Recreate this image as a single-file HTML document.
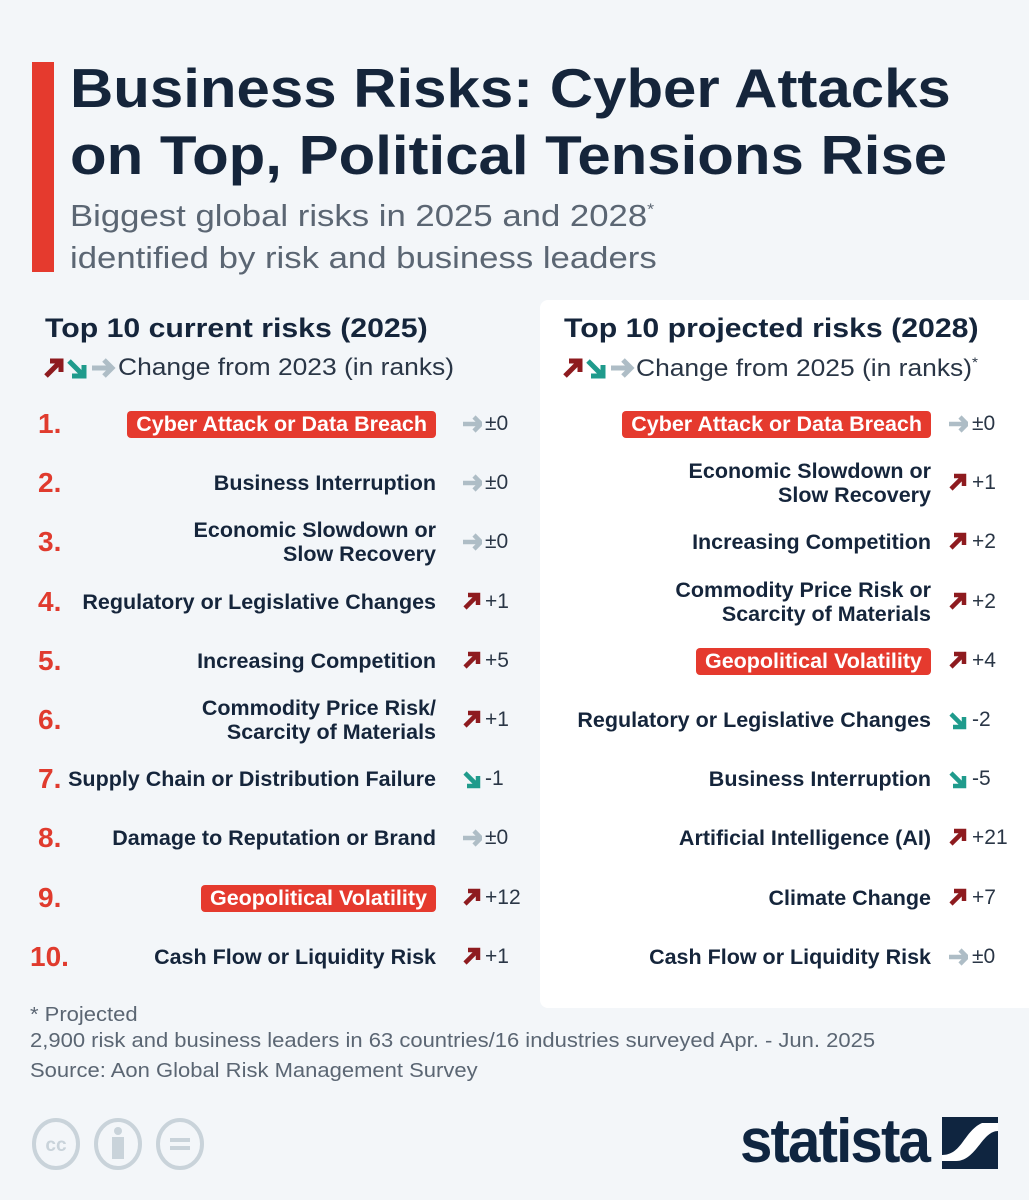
<!DOCTYPE html>
<html><head><meta charset="utf-8"><style>
*{margin:0;padding:0;box-sizing:border-box}
body{width:1029px;height:1200px;background:#f3f6f9;font-family:"Liberation Sans","DejaVu Sans",sans-serif;position:relative;overflow:hidden;color:#17263b}
.a{position:absolute;white-space:nowrap}
.sx{transform-origin:left top}
.t{font-weight:bold;font-size:55px;color:#15253b;left:70px;line-height:66px;transform:scaleX(1.09)}
.sub{font-size:31px;color:#5b6673;left:70px;transform:scaleX(1.12)}
.h{font-weight:bold;font-size:27px;color:#15253b;transform:scaleX(1.12)}
.leg{font-size:24px;color:#2a3646;transform:scaleX(1.1)}
.rk{font-weight:bold;font-size:28px;color:#e03b2e;transform:translateY(-50%)}
.lb{font-weight:bold;font-size:21.5px;color:#15253b;text-align:right;line-height:24px;transform:translateY(-50%)}
.pill{background:#e53a2e;color:#fff;border-radius:4px;padding:1px 9px 2px}
.v{font-size:21px;color:#2a3646;transform:translateY(-50%)}
.ar{position:absolute;transform:translateY(-50%)}
</style></head><body>
<div class="a" style="left:32px;top:62px;width:22px;height:210px;background:#e53a2e"></div>
<div class="a t sx" style="top:55px">Business Risks: Cyber Attacks</div>
<div class="a t sx" style="top:122px">on Top, Political Tensions Rise</div>
<div class="a sub sx" style="top:198px">Biggest global risks in 2025 and 2028<sup style="font-size:16px">*</sup></div>
<div class="a sub sx" style="top:240px">identified by risk and business leaders</div>

<div class="a" style="left:540px;top:300px;width:520px;height:708px;background:#fff;border-radius:8px"></div>

<div class="a h sx" style="left:45px;top:313px">Top 10 current risks (2025)</div>
<div class="a h sx" style="left:564px;top:313px">Top 10 projected risks (2028)</div>

<svg class="a" style="left:42px;top:356px" width="74" height="24" viewBox="0 0 74 24">
<g stroke-width="5" fill="none"><path d="M4 20 L18 6 M8 5 H19 V16" stroke="#8e1b1f"/><path d="M27 5 L41 19 M30 20 H42 V9" stroke="#1f9b8c"/><path d="M50 12 H70 M62 4 L70 12 L62 20" stroke="#aebdc6"/></g></svg>
<div class="a leg sx" style="left:118px;top:354px">Change from 2023 (in ranks)</div>
<svg class="a" style="left:561px;top:356px" width="74" height="24" viewBox="0 0 74 24">
<g stroke-width="5" fill="none"><path d="M4 20 L18 6 M8 5 H19 V16" stroke="#8e1b1f"/><path d="M27 5 L41 19 M30 20 H42 V9" stroke="#1f9b8c"/><path d="M50 12 H70 M62 4 L70 12 L62 20" stroke="#aebdc6"/></g></svg>
<div class="a leg sx" style="left:636px;top:354px">Change from 2025 (in ranks)<sup style="font-size:14px">*</sup></div>

<div id="rows"></div>

<div class="a sx" style="left:30px;top:1002px;font-size:20px;color:#5b6673;line-height:26px;transform:scaleX(1.1)">* Projected<br>2,900 risk and business leaders in 63 countries/16 industries surveyed Apr. - Jun. 2025<br><span style="line-height:34px">Source: Aon Global Risk Management Survey</span></div>

<svg class="a" style="left:30px;top:1117px" width="180" height="54">
<g fill="none" stroke="#c9d3da" stroke-width="4"><ellipse cx="26" cy="27" rx="22" ry="24"/><ellipse cx="88" cy="27" rx="22" ry="24"/><ellipse cx="150" cy="27" rx="22" ry="24"/></g>
<text x="26" y="34" font-size="19" font-weight="bold" fill="#c9d3da" text-anchor="middle" font-family="Liberation Sans">cc</text>
<circle cx="88" cy="14" r="4" fill="#c9d3da"/><rect x="82" y="20" width="12" height="22" fill="#c9d3da"/>
<rect x="140" y="21" width="20" height="4" fill="#c9d3da"/><rect x="140" y="29" width="20" height="4" fill="#c9d3da"/></svg>
<div class="a" style="left:740px;top:1106px;font-size:62px;font-weight:bold;color:#0f2540;letter-spacing:-2px;transform:scaleX(0.94);transform-origin:left">statista</div>
<svg class="a" style="left:942px;top:1117px" width="56" height="52"><rect width="56" height="52" fill="#0f2540"/><path d="M0 38 C20 38 22 14 40 6 L56 6 L56 14 C40 14 34 44 14 44 L0 44Z" fill="#fff"/></svg>

<script>
const U='<path d="M3 17 L15 5 M6 4 H16 V14" stroke="#8e1b1f" stroke-width="4.5" fill="none"/>';
const D='<path d="M3 5 L15 17 M5 18 H16 V8" stroke="#1f9b8c" stroke-width="4.5" fill="none"/>';
const R='<path d="M1 11 H19 M12 4 L19 11 L12 18" stroke="#aebdc6" stroke-width="4.5" fill="none"/>';
const L=[["Cyber Attack or Data Breach",1,R,"±0"],["Business Interruption",0,R,"±0"],["Economic Slowdown or<br>Slow Recovery",0,R,"±0"],["Regulatory or Legislative Changes",0,U,"+1"],["Increasing Competition",0,U,"+5"],["Commodity Price Risk/<br>Scarcity of Materials",0,U,"+1"],["Supply Chain or Distribution Failure",0,D,"-1"],["Damage to Reputation or Brand",0,R,"±0"],["Geopolitical Volatility",1,U,"+12"],["Cash Flow or Liquidity Risk",0,U,"+1"]];
const Rr=[["Cyber Attack or Data Breach",1,R,"±0"],["Economic Slowdown or<br>Slow Recovery",0,U,"+1"],["Increasing Competition",0,U,"+2"],["Commodity Price Risk or<br>Scarcity of Materials",0,U,"+2"],["Geopolitical Volatility",1,U,"+4"],["Regulatory or Legislative Changes",0,D,"-2"],["Business Interruption",0,D,"-5"],["Artificial Intelligence (AI)",0,U,"+21"],["Climate Change",0,U,"+7"],["Cash Flow or Liquidity Risk",0,R,"±0"]];
let h='';
for(let i=0;i<10;i++){const y=424+i*59.2;
h+=`<div class="a rk" style="left:${i==9?30:38}px;top:${y}px">${i+1}.</div>`;
let l=L[i];h+=`<div class="a lb" style="right:${1029-436}px;top:${y}px">${l[1]?'<span class="pill">'+l[0]+'</span>':l[0]}</div>`;
h+=`<svg class="ar" style="left:462px;top:${y}px" width="20" height="22">${l[2]}</svg><div class="a v" style="left:485px;top:${y}px">${l[3]}</div>`;
let r=Rr[i];h+=`<div class="a lb" style="right:${1029-931}px;top:${y}px">${r[1]?'<span class="pill">'+r[0]+'</span>':r[0]}</div>`;
h+=`<svg class="ar" style="left:948px;top:${y}px" width="20" height="22">${r[2]}</svg><div class="a v" style="left:972px;top:${y}px">${r[3]}</div>`;}
document.getElementById('rows').innerHTML=h;
</script>
</body></html>
